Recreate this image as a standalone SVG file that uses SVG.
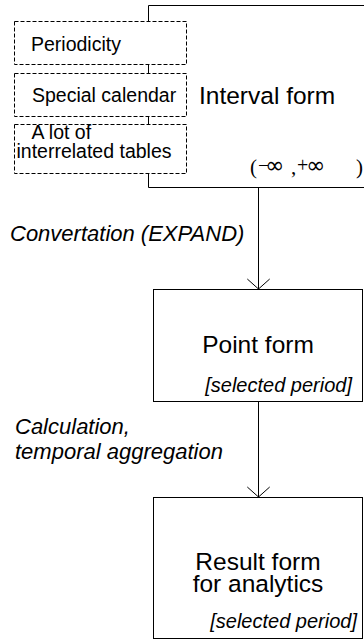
<svg xmlns="http://www.w3.org/2000/svg" width="364" height="641" viewBox="0 0 364 641">
<style>
.ln{fill:none;stroke:#000;stroke-width:1}
.box{fill:#fff;stroke:#000;stroke-width:1}
.dash{fill:#fff;stroke:#000;stroke-width:1;stroke-dasharray:4 2}
.t{font-family:"Liberation Sans",Arial,sans-serif;fill:#000}
.s{font-size:19.5px}
.b{font-size:24.5px}
.i{font-style:italic}
.sym{font-family:"Liberation Serif","DejaVu Serif",serif;font-size:21px;fill:#000}
.inf{font-family:"DejaVu Sans",sans-serif;font-size:23px}
</style>
<defs>
<marker id="arr" markerWidth="14" markerHeight="26" refX="12" refY="12.7" orient="auto" markerUnits="userSpaceOnUse" viewBox="0 0 14 26">
<path d="M2,1.5 L12,12.7 L2,23.9" fill="none" stroke="#000" stroke-width="1"/>
</marker>
</defs>
<g id="interval">
<path class="ln" d="M364,5.5 H148.5 V187.5 H364"/>
<text class="t b" x="199" y="104">Interval form</text>
<text class="sym" y="174"><tspan x="250">(</tspan><tspan x="258" font-size="20px" y="172">−</tspan><tspan class="inf" x="265" y="173">∞</tspan><tspan x="291" y="174">,</tspan><tspan x="297" font-size="20px" y="172">+</tspan><tspan class="inf" x="306" y="173">∞</tspan><tspan x="356" y="174">)</tspan></text>
</g>
<g id="periodicity">
<rect class="dash" x="14.5" y="21.5" width="172" height="43"/>
<text class="t s" x="31" y="51">Periodicity</text>
</g>
<g id="calendar">
<rect class="dash" x="14.5" y="73.5" width="172" height="43"/>
<text class="t s" x="32" y="102">Special calendar</text>
</g>
<g id="tables">
<rect class="dash" x="14.5" y="124.5" width="172" height="49"/>
<text class="t s" x="31.5" y="139">A lot of</text>
<text class="t s" x="16.5" y="158">interrelated tables</text>
</g>
<g id="point">
<rect class="box" x="153.5" y="289.5" width="209" height="112"/>
<text class="t b" x="258" y="353" text-anchor="middle">Point form</text>
<text class="t i" x="352" y="392" text-anchor="end" font-size="20px">[selected period]</text>
</g>
<g id="result">
<rect class="box" x="153.5" y="497.5" width="209" height="141"/>
<text class="t b" x="258" y="570" text-anchor="middle">Result form</text>
<text class="t b" x="258" y="592" text-anchor="middle">for analytics</text>
<text class="t i" x="357" y="628" text-anchor="end" font-size="20px">[selected period]</text>
</g>
<g id="connectors">
<line class="ln" x1="258.5" y1="188" x2="258.5" y2="289" marker-end="url(#arr)"/>
<line class="ln" x1="258.5" y1="402" x2="258.5" y2="497" marker-end="url(#arr)"/>
<text class="t i" x="10" y="241" font-size="22px">Convertation (EXPAND)</text>
<text class="t i" x="15" y="434" font-size="22px">Calculation,</text>
<text class="t i" x="15" y="459" font-size="22px">temporal aggregation</text>
</g>
</svg>
